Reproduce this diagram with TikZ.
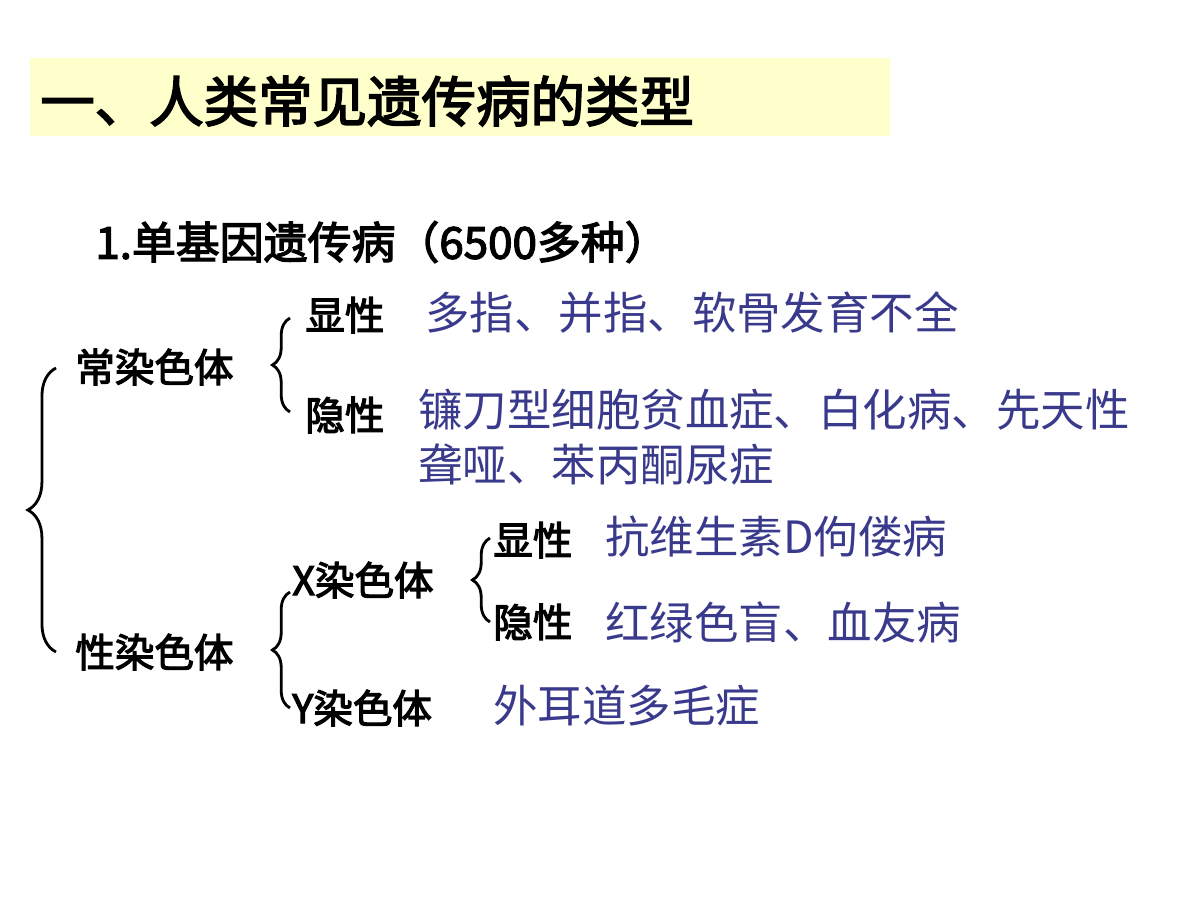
\documentclass[tikz,border=0pt]{standalone}
\usepackage{fontspec}
\newfontfamily\cjk{Noto Sans CJK SC}
\newfontfamily\cjkb{Noto Sans CJK SC}[FakeBold=3]
\usetikzlibrary{decorations.pathreplacing}
\definecolor{dblue}{HTML}{3A3A8C}
\definecolor{tyel}{HTML}{FFFFCC}
\tikzset{
 lab/.style={anchor=west,inner sep=0pt,font=\cjkb\fontsize{22.5}{26}\selectfont},
 dis/.style={anchor=west,inner sep=0pt,text=dblue,font=\cjk\fontsize{25.3}{30}\selectfont},
 br/.style={decorate,decoration={brace,amplitude=#1,mirror},line width=1.6pt},
}
\begin{document}
\begin{tikzpicture}[x=0.02cm,y=-0.02cm]
\useasboundingbox (0,0) rectangle (1200,900);
\fill[tyel] (30,58) rectangle (890,136);
\node[anchor=west,inner sep=0pt,font=\cjkb\fontsize{31}{36}\selectfont] (title) at (40,101) {一、人类常见遗传病的类型};
\node[anchor=west,inner sep=0pt,font=\cjkb\fontsize{25}{30}\selectfont] (sub) at (95,242) {1.单基因遗传病（6500多种）};
\node[lab] (auto) at (75,367) {常染色体};
\node[lab] (sex) at (75,652) {性染色体};
\node[lab] (ad) at (305,315) {显性};
\node[lab] (ar) at (305,415) {隐性};
\node[dis] (d1) at (425,313) {多指、并指、软骨发育不全};
\node[dis,align=left,font=\cjk\fontsize{25.3}{31}\selectfont] (d2) at (418,437) {镰刀型细胞贫血症、白化病、先天性\\聋哑、苯丙酮尿症};
\node[lab] (x) at (292,580) {X染色体};
\node[lab] (y) at (292,708) {Y染色体};
\node[lab] (xd) at (493,540) {显性};
\node[lab] (xr) at (493,622) {隐性};
\node[dis] (d3) at (605,537) {抗维生素D佝偻病};
\node[dis] (d4) at (605,622) {红绿色盲、血友病};
\node[dis] (d5) at (493,706) {外耳道多毛症};
\coordinate (b1a) at (56,368); \coordinate (b1b) at (56,652);
\draw[br=16pt] (b1a) -- (b1b);
\coordinate (b2a) at (290,318); \coordinate (b2b) at (290,412);
\draw[br=10pt] (b2a) -- (b2b);
\coordinate (b3a) at (490,538); \coordinate (b3b) at (490,622);
\draw[br=10pt] (b3a) -- (b3b);
\coordinate (b4a) at (290,592); \coordinate (b4b) at (290,708);
\draw[br=10pt] (b4a) -- (b4b);
\end{tikzpicture}
\end{document}
